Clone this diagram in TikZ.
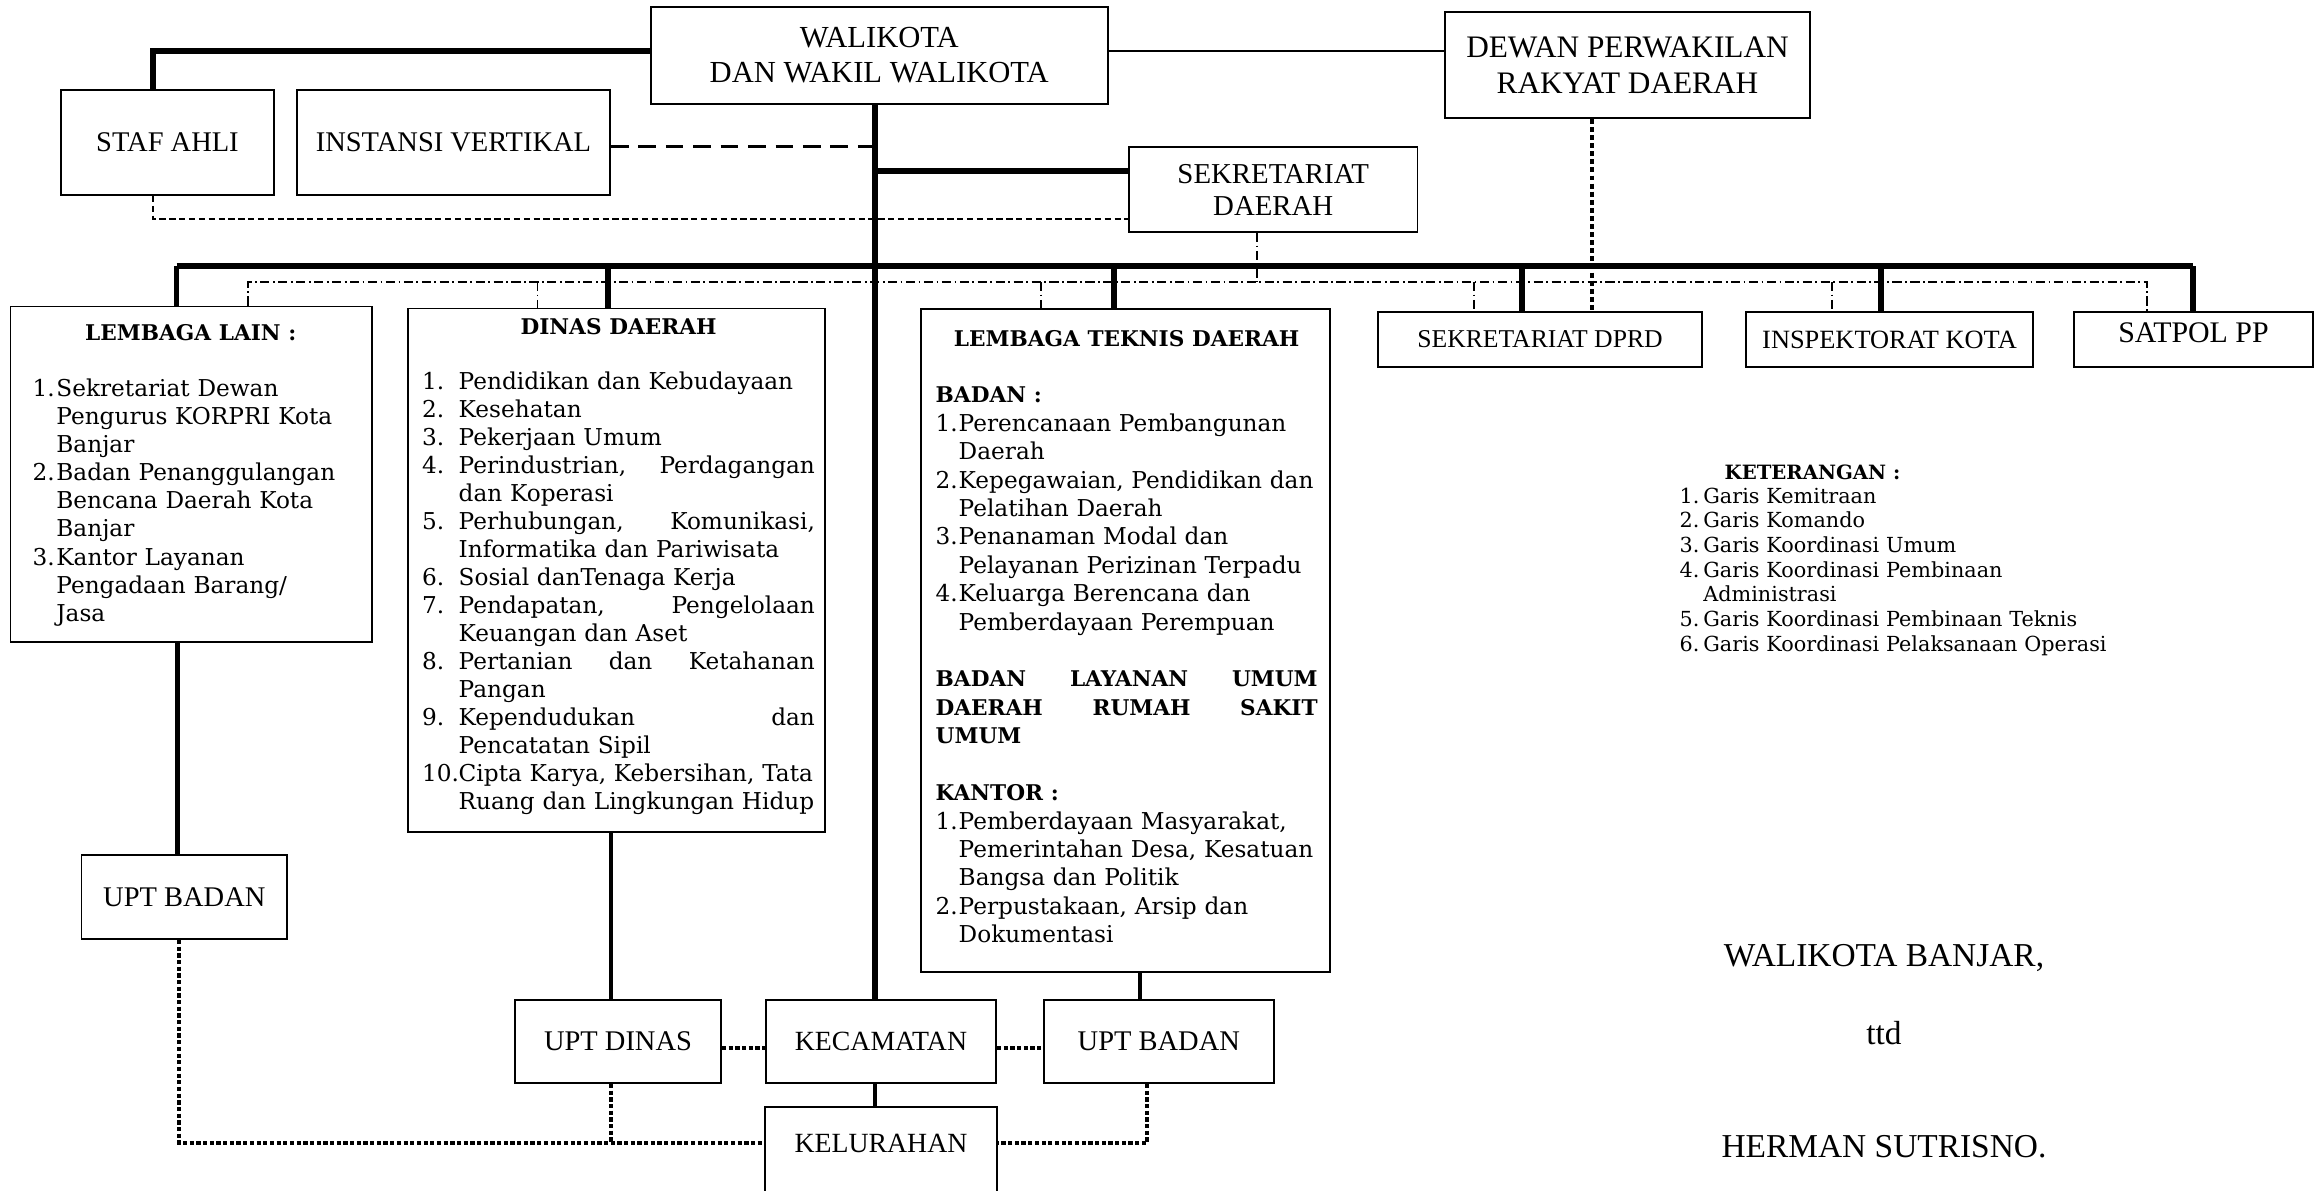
\documentclass[tikz,border=0pt]{standalone}
\usepackage{fontspec}
\setmainfont{Liberation Serif}
\newfontfamily\bkfont{DejaVu Serif}
\newlength\mynw
\newlength\mytw
\newcommand\myli[2]{\makebox[\mynw][l]{#1}\makebox[\mytw][l]{#2}}
\newcommand\mylj[2]{\makebox[\mynw][l]{#1}\hbox to\mytw{#2}}
\newcommand\myhd[1]{\fontsize{6.15}{7}\selectfont\bfseries #1}
\tikzset{
  sbox/.style={draw, line width=0.5pt, inner sep=0pt, align=center, font=\fontsize{8.1}{9.6}\selectfont},
  skomando/.style={line width=1.7pt},
  sbranch/.style={line width=1.5pt},
  slower/.style={line width=1.3pt},
  smitra/.style={line width=0.75pt},
  sumum/.style={line width=0.9pt, dash pattern=on 5pt off 2.8pt},
  sadmin/.style={line width=0.4pt, dash pattern=on 1.8pt off 1pt},
  steknis/.style={line width=0.4pt, dash pattern=on 2.6pt off 1pt on 0.5pt off 1pt},
  sops/.style={line width=1.35pt, dash pattern=on 1.2pt off 0.7pt},
  sops2/.style={line width=1.1pt, dash pattern=on 1.4pt off 0.9pt},
  slist/.style={anchor=base west, inner sep=0pt, align=left},
}
\begin{document}
\begin{tikzpicture}[x=0.01cm, y=-0.01cm]
\useasboundingbox (0,0) rectangle (2320,1190);
\clip (0,0) rectangle (2320,1190);

% ---------- boxes ----------
\node[sbox, minimum width=4.565cm, minimum height=0.97cm, font=\fontsize{8.7}{10}\selectfont] (walikota) at (879.25,55.5) {WALIKOTA\\DAN WAKIL WALIKOTA};
\node[sbox, minimum width=2.13cm, minimum height=1.05cm] (stafahli) at (167.5,142.5) {STAF AHLI};
\node[sbox, minimum width=3.13cm, minimum height=1.05cm] (instansi) at (453.5,142.5) {INSTANSI VERTIKAL};
\node[sbox, minimum width=3.65cm, minimum height=1.06cm, font=\fontsize{8.9}{10.2}\selectfont] (dprd) at (1627.5,65) {DEWAN PERWAKILAN\\RAKYAT DAERAH};
\node[sbox, minimum width=2.885cm, minimum height=0.85cm, font=\fontsize{8.2}{9.1}\selectfont] (sekda) at (1273.25,189.5) {SEKRETARIAT\\DAERAH};

\node[sbox, minimum width=3.61cm, minimum height=3.355cm] (lembagalain) at (191.2,474.25) {};
\node[sbox, minimum width=4.17cm, minimum height=5.234cm] (dinas) at (616.5,570.3) {};
\node[sbox, minimum width=4.09cm, minimum height=6.625cm] (teknis) at (1125.5,640.75) {};

\node[sbox, minimum width=3.24cm, minimum height=0.55cm, font=\fontsize{7.3}{8}\selectfont] (sekdprd) at (1540,339.5) {SEKRETARIAT DPRD};
\node[sbox, minimum width=2.87cm, minimum height=0.55cm, font=\fontsize{7.5}{8}\selectfont] (inspektorat) at (1889.5,339.5) {INSPEKTORAT KOTA};
\node[sbox, minimum width=2.39cm, minimum height=0.55cm, text depth=0.14cm, font=\fontsize{8.5}{9}\selectfont] (satpol) at (2193.5,339.5) {SATPOL PP};

\node[sbox, minimum width=2.054cm, minimum height=0.84cm] (uptbadanL) at (184.3,897) {UPT BADAN};
\node[sbox, minimum width=2.06cm, minimum height=0.83cm] (uptdinas) at (618,1041.5) {UPT DINAS};
\node[sbox, minimum width=2.30cm, minimum height=0.83cm, font=\fontsize{7.9}{9}\selectfont] (kecamatan) at (881,1041.5) {KECAMATAN};
\node[sbox, minimum width=2.296cm, minimum height=0.83cm] (uptbadanR) at (1158.8,1041.5) {UPT BADAN};
\node[sbox, draw=none, minimum width=2.30cm, minimum height=0.70cm, font=\fontsize{7.9}{9}\selectfont] (kelurahan) at (881,1143) {KELURAHAN};
\draw[line width=0.5pt] (kelurahan.north west) rectangle ([yshift=-0.8cm]kelurahan.south east);

% ---------- list texts ----------
\node[slist, text width=3.16cm, font=\bkfont\fontsize{6.6}{8}\selectfont] (lltxt) at (32,340) {%
\setlength\mynw{0.237cm}\setlength\mytw{3.0cm}%
\makebox[\linewidth][c]{\myhd{LEMBAGA LAIN :}}\\[8pt]
\myli{1.}{Sekretariat Dewan}\\
\myli{}{Pengurus KORPRI Kota}\\
\myli{}{Banjar}\\
\myli{2.}{Badan Penanggulangan}\\
\myli{}{Bencana Daerah Kota}\\
\myli{}{Banjar}\\
\myli{3.}{Kantor Layanan}\\
\myli{}{Pengadaan Barang/}\\
\myli{}{Jasa}};

\node[slist, text width=3.925cm, font=\bkfont\fontsize{6.6}{7.95}\selectfont] (dinastxt) at (421.5,334) {%
\setlength\mynw{0.365cm}\setlength\mytw{3.56cm}%
\makebox[\linewidth][c]{\myhd{DINAS DAERAH}}\\[7.95pt]
\myli{1.}{Pendidikan dan Kebudayaan}\\
\myli{2.}{Kesehatan}\\
\myli{3.}{Pekerjaan Umum}\\
\mylj{4.}{Perindustrian,\hfill Perdagangan}\\
\myli{}{dan Koperasi}\\
\mylj{5.}{Perhubungan,\hfill Komunikasi,}\\
\myli{}{Informatika dan Pariwisata}\\
\myli{6.}{Sosial danTenaga Kerja}\\
\mylj{7.}{Pendapatan,\hfill Pengelolaan}\\
\myli{}{Keuangan dan Aset}\\
\mylj{8.}{Pertanian\hfill dan\hfill Ketahanan}\\
\myli{}{Pangan}\\
\mylj{9.}{Kependudukan\hfill dan}\\
\myli{}{Pencatatan Sipil}\\
\mylj{10.}{Cipta Karya, Kebersihan, Tata}\\
\myli{}{Ruang dan Lingkungan Hidup}};

\node[slist, text width=3.817cm, font=\bkfont\fontsize{6.6}{8.08}\selectfont] (teknistxt) at (935,346) {%
\setlength\mynw{0.23cm}\setlength\mytw{3.587cm}%
\makebox[\linewidth][c]{\myhd{LEMBAGA TEKNIS DAERAH}}\\[8.08pt]
\mbox{\myhd{BADAN :}}\\
\myli{1.}{Perencanaan Pembangunan}\\
\myli{}{Daerah}\\
\myli{2.}{Kepegawaian, Pendidikan dan}\\
\myli{}{Pelatihan Daerah}\\
\myli{3.}{Penanaman Modal dan}\\
\myli{}{Pelayanan Perizinan Terpadu}\\
\myli{4.}{Keluarga Berencana dan}\\
\myli{}{Pemberdayaan Perempuan}\\[8.08pt]
\leavevmode\hbox to\linewidth{\myhd{BADAN\hfill LAYANAN\hfill UMUM}}\\
\leavevmode\hbox to\linewidth{\myhd{DAERAH\hfill RUMAH\hfill SAKIT}}\\
\mbox{\myhd{UMUM}}\\[8.08pt]
\mbox{\myhd{KANTOR :}}\\
\myli{1.}{Pemberdayaan Masyarakat,}\\
\myli{}{Pemerintahan Desa, Kesatuan}\\
\myli{}{Bangsa dan Politik}\\
\myli{2.}{Perpustakaan, Arsip dan}\\
\myli{}{Dokumentasi}};

% ---------- keterangan ----------
\node[inner sep=0pt, font=\bkfont\bfseries\fontsize{5.6}{7}\selectfont] (kethead) at (1812.5,472.7) {KETERANGAN :};
\node[slist, text width=4.3cm, font=\bkfont\fontsize{5.9}{7.03}\selectfont] (kettxt) at (1679,503) {%
\setlength\mynw{0.237cm}\setlength\mytw{4cm}%
\myli{1.}{Garis Kemitraan}\\
\myli{2.}{Garis Komando}\\
\myli{3.}{Garis Koordinasi Umum}\\
\myli{4.}{Garis Koordinasi Pembinaan}\\
\myli{}{Administrasi}\\
\myli{5.}{Garis Koordinasi Pembinaan Teknis}\\
\myli{6.}{Garis Koordinasi Pelaksanaan Operasi}};

% ---------- signature ----------
\node[inner sep=0pt, font=\fontsize{9.5}{11}\selectfont] (sig1) at (1884,958) {WALIKOTA BANJAR,};
\node[inner sep=0pt, font=\fontsize{9.5}{11}\selectfont] (sig2) at (1884,1033) {ttd};
\node[inner sep=0pt, font=\fontsize{9.5}{11}\selectfont] (sig3) at (1884,1146.7) {HERMAN SUTRISNO.};

% ---------- connectors ----------
\coordinate (mx) at (875,0);
\coordinate (cSA) at (153,51);
\coordinate (cDP) at (1107,51);
\coordinate (cIV) at (875,146.7);
\coordinate (cSD) at (875,171);
\coordinate (cSA2) at (153,219);
\coordinate (barL) at (176.5,266);
\coordinate (barR) at (2193,266);
\coordinate (bD) at (608,266);
\coordinate (bT) at (1114,266);
\coordinate (bS) at (1522,266);
\coordinate (bI) at (1881,266);
\coordinate (ddL) at (248,282);
\coordinate (ddR) at (2147,282);
\coordinate (dd2) at (537.6,282);
\coordinate (dd3) at (1041,282);
\coordinate (dd4) at (1474,282);
\coordinate (dd5) at (1832,282);
\coordinate (dds) at (1257,282);
\coordinate (dpx) at (1592,0);
\coordinate (lL) at (177.6,0);
\coordinate (lD) at (611,0);
\coordinate (lT) at (1140,0);
\coordinate (oy) at (0,1048);
\coordinate (oL) at (179,1143);
\coordinate (oD) at (611,1143);
\coordinate (oR) at (1147,1143);

\draw[skomando] (stafahli.north -| cSA) -- (cSA) -- (cSA -| walikota.west);
\draw[smitra] (walikota.east |- cDP) -- (dprd.west |- cDP);
\draw[skomando] (walikota.south -| mx) -- (kecamatan.north -| mx);
\draw[sumum] (instansi.east |- cIV) -- (cIV);
\draw[skomando] (cSD) -- (sekda.west |- cSD);
\draw[sadmin] (stafahli.south -| cSA2) -- (cSA2) -- (cSA2 -| sekda.west);

\draw[skomando] (barL) -- (barR);
\draw[sbranch] (barL) -- (lembagalain.north -| barL);
\draw[sbranch] (bD) -- (dinas.north -| bD);
\draw[sbranch] (bT) -- (teknis.north -| bT);
\draw[sbranch] (bS) -- (sekdprd.north -| bS);
\draw[sbranch] (bI) -- (inspektorat.north -| bI);
\draw[sbranch] (barR) -- (satpol.north -| barR);

\draw[steknis] (lembagalain.north -| ddL) -- (ddL) -- (ddR) -- (satpol.north -| ddR);
\draw[steknis] (dd2) -- (dinas.north -| dd2);
\draw[steknis] (dd3) -- (teknis.north -| dd3);
\draw[steknis] (dd4) -- (sekdprd.north -| dd4);
\draw[steknis] (dd5) -- (inspektorat.north -| dd5);
\draw[steknis] (sekda.south -| dds) -- (dds);

\draw[sops2] (dprd.south -| dpx) -- (sekdprd.north -| dpx);

\draw[slower] (lembagalain.south -| lL) -- (uptbadanL.north -| lL);
\draw[slower] (dinas.south -| lD) -- (uptdinas.north -| lD);
\draw[slower] (teknis.south -| lT) -- (uptbadanR.north -| lT);
\draw[slower] (kecamatan.south -| mx) -- (kelurahan.north -| mx);

\draw[sops] (uptdinas.east |- oy) -- (kecamatan.west |- oy);
\draw[sops] (kecamatan.east |- oy) -- (uptbadanR.west |- oy);
\draw[sops] (uptbadanL.south -| oL) -- (oL) -- (kelurahan.west);
\draw[sops] (uptdinas.south -| oD) -- (oD);
\draw[sops] (uptbadanR.south -| oR) -- (oR) -- (kelurahan.east);
\end{tikzpicture}
\end{document}
